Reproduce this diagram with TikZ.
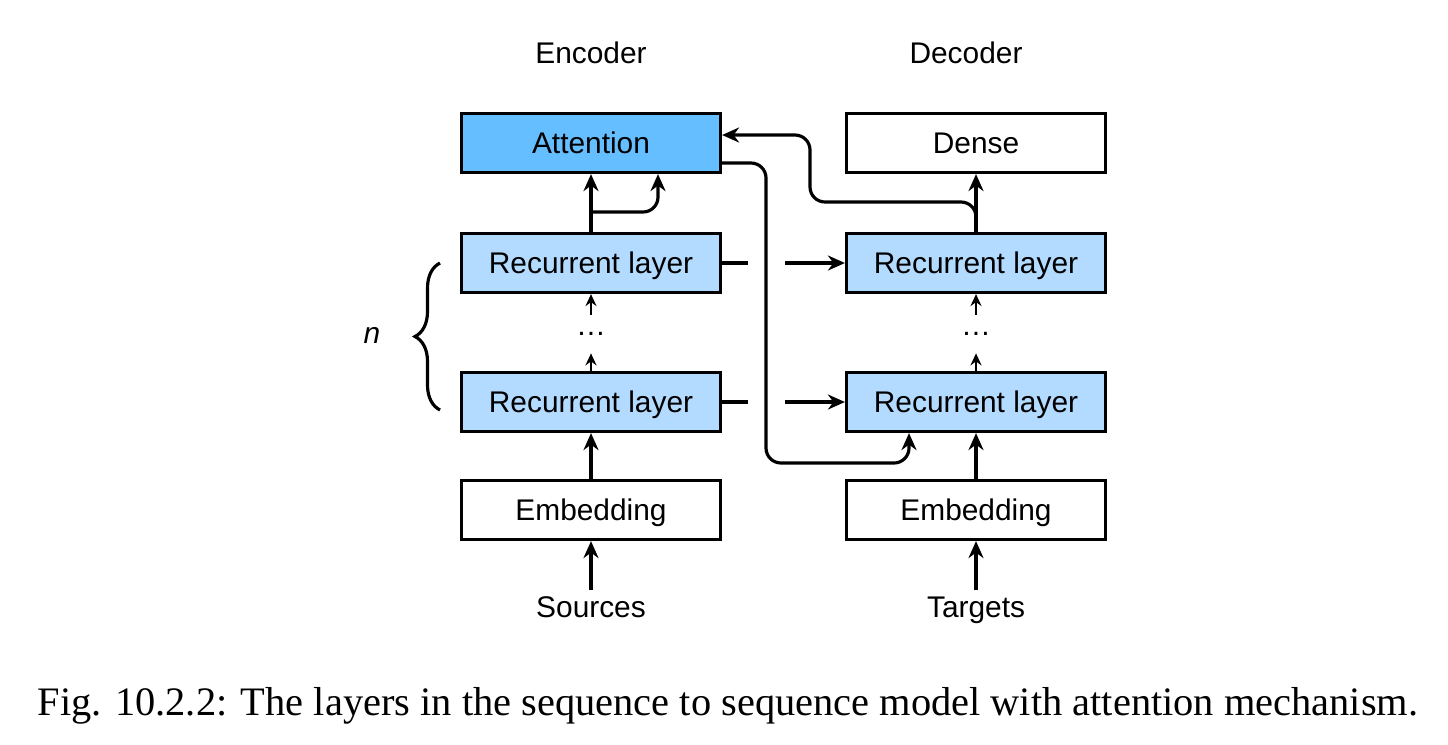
\documentclass[tikz,border=0pt]{standalone}
\usepackage{fontspec}
\setmainfont{Liberation Serif}
\setsansfont{Liberation Sans}
\usepackage{tikz}
\usetikzlibrary{arrows.meta, decorations.pathreplacing}
\definecolor{cattn}{HTML}{64BEFF}
\definecolor{crnn}{HTML}{B3DAFF}
\tikzset{
  layer/.style={draw, line width=1.8pt, minimum width=5.18cm, minimum height=1.18cm, inner sep=0pt,
    text height=12.2pt, text depth=0pt},
  arr/.style={line width=1.8pt, -{Stealth[length=0.34cm, width=0.3cm, inset=0.11cm]}},
  thinarr/.style={line width=1.3pt, -{Stealth[length=0.24cm, width=0.22cm, inset=0.08cm]}},
  dots/.style={minimum height=0.76cm, inner sep=0pt},
}

\begin{document}
\begin{tikzpicture}[font=\sffamily\fontsize{17}{20}\selectfont]
  \useasboundingbox (0,0) rectangle (28.96,-14.88);
  % encoder column
  \node[anchor=base] (enc) at (11.82,-1.26) {Encoder};
  \node[layer, fill=cattn] (att) at (11.82,-2.86) {Attention};
  \node[layer, fill=crnn] (er1) at (11.82,-5.26) {Recurrent layer};
  \node[dots] (edots) at (11.82,-6.68) {\ldots};
  \node[layer, fill=crnn] (er0) at (11.82,-8.04) {Recurrent layer};
  \node[layer] (eemb) at (11.82,-10.20) {Embedding};
  \node[anchor=base] (src) at (11.82,-12.34) {Sources};
  % decoder column
  \node[anchor=base] (dec) at (19.32,-1.26) {Decoder};
  \node[layer] (dense) at (19.52,-2.86) {Dense};
  \node[layer, fill=crnn] (dr1) at (19.52,-5.26) {Recurrent layer};
  \node[dots] (ddots) at (19.52,-6.68) {\ldots};
  \node[layer, fill=crnn] (dr0) at (19.52,-8.04) {Recurrent layer};
  \node[layer] (demb) at (19.52,-10.20) {Embedding};
  \node[anchor=base] (tgt) at (19.52,-12.34) {Targets};
  % vertical flow
  \draw[arr] (src.north) -- (eemb.south);
  \draw[arr] (eemb.north) -- (er0.south);
  \draw[thinarr] (er0.north) -- (edots.south);
  \draw[thinarr] (edots.north) -- (er1.south);
  \draw[arr] (er1.north) -- (att.south);
  \draw[arr, rounded corners=0.3cm] (11.82,-4.24) -- (13.16,-4.24) -- ([xshift=1.34cm]att.south);
  \draw[arr] (tgt.north) -- (demb.south);
  \draw[arr] (demb.north) -- (dr0.south);
  \draw[thinarr] (dr0.north) -- (ddots.south);
  \draw[thinarr] (ddots.north) -- (dr1.south);
  \draw[arr] (dr1.north) -- (dense.south);
  % states passed across
  \coordinate (gapl1) at (14.96,-5.26);
  \coordinate (gapr1) at (15.70,-5.26);
  \coordinate (gapl0) at (14.96,-8.04);
  \coordinate (gapr0) at (15.70,-8.04);
  \draw[line width=1.8pt] (er1.east) -- (gapl1);
  \draw[arr] (gapr1) -- (dr1.west);
  \draw[line width=1.8pt] (er0.east) -- (gapl0);
  \draw[arr] (gapr0) -- (dr0.west);
  % attention loops
  \draw[arr, rounded corners=0.3cm] ([yshift=-0.40cm]att.east) -- (15.32,-3.26) -- (15.32,-9.26)
    -- (18.18,-9.26) -- ([xshift=-1.34cm]dr0.south);
  \draw[arr, rounded corners=0.3cm] (dr1.north) -- (19.52,-4.04) -- (16.20,-4.04) -- (16.20,-2.70)
    -- ([yshift=0.16cm]att.east);
  % stack size
  \draw[line width=1.8pt, decorate, decoration={brace, amplitude=0.5cm}] (8.80,-8.20) -- (8.80,-5.26);
  \node (nlbl) at (7.44,-6.70) {\textit{n}};
  \node[anchor=base, font=\rmfamily\fontsize{23}{27}\selectfont] (cap) at (14.56,-14.30)
    {Fig. 10.2.2: The layers in the sequence to sequence model with attention mechanism.};
\end{tikzpicture}
\end{document}
